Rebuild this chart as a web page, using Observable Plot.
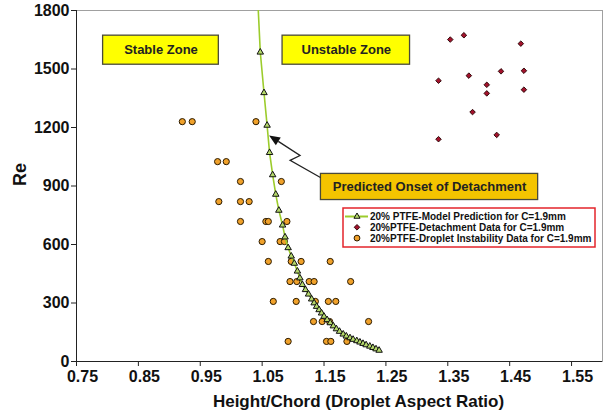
<!DOCTYPE html>
<html><head><meta charset="utf-8">
<script src="https://cdn.jsdelivr.net/npm/d3@7"></script>
<script src="https://cdn.jsdelivr.net/npm/@observablehq/plot@0.6"></script>
<style>body{margin:0;background:#fff;} #chart{width:610px;height:420px;}</style>
</head><body><div id="chart"></div>
<script>
// ---- data ----
const xTicks = [0.75, 0.85, 0.95, 1.05, 1.15, 1.25, 1.35, 1.45, 1.55];
const yTicks = [0, 300, 600, 900, 1200, 1500, 1800];

const modelX = [1.043, 1.047, 1.053, 1.058, 1.062, 1.067, 1.072, 1.077, 1.083, 1.087, 1.092, 1.097, 1.102, 1.107, 1.111, 1.115, 1.120, 1.125, 1.130, 1.134, 1.138, 1.142, 1.146, 1.150, 1.155, 1.160, 1.165, 1.170, 1.175, 1.181, 1.186, 1.192, 1.197, 1.203, 1.208, 1.213, 1.218, 1.224, 1.229, 1.234, 1.239];
const modelRe = [1850, 1586, 1378, 1211, 1071, 957, 857, 775, 699, 638, 583, 540, 503, 463, 428, 394, 368, 345, 320, 300, 282, 265, 248, 231, 214, 198, 182, 167, 154, 140, 130, 121, 113, 106, 99, 92, 85, 78, 71, 64, 57];

const detachX = [1.335, 1.354, 1.376, 1.384, 1.413, 1.413, 1.390, 1.335, 1.429, 1.436, 1.468, 1.473, 1.473];
const detachRe = [1440, 1651, 1673, 1466, 1419, 1375, 1279, 1140, 1162, 1488, 1630, 1491, 1394];

const dropX = [0.921, 0.937, 1.040, 0.978, 0.992, 1.015, 1.081, 0.980, 1.015, 1.029, 1.015, 1.056, 1.060, 1.090, 1.050, 1.079, 1.086, 1.060, 1.097, 1.113, 1.160, 1.095, 1.106, 1.126, 1.134, 1.193, 1.068, 1.105, 1.136, 1.157, 1.169, 1.133, 1.147, 1.159, 1.222, 1.092, 1.154, 1.161, 1.187];
const dropRe = [1230, 1230, 1230, 1025, 1025, 923, 923, 820, 820, 820, 718, 718, 718, 718, 615, 615, 615, 513, 513, 513, 513, 410, 410, 410, 410, 410, 308, 308, 308, 308, 308, 205, 205, 205, 205, 103, 103, 103, 103];

const seriesNames = [
  "20% PTFE-Model Prediction for C=1.9mm",
  "20%PTFE-Detachment Data for C=1.9mm",
  "20%PTFE-Droplet Instability Data for C=1.9mm"
];

// annotations (data coordinates)
const zoneText = ["Stable Zone", "Unstable Zone", "Predicted Onset of Detachment"];
const zoneX1 = [0.793, 1.083, 1.145];
const zoneX2 = [0.980, 1.289, 1.496];
const zoneY1 = [1522, 1522, 828];
const zoneY2 = [1671, 1671, 962];
const arrowX = [1.145, 1.096, 1.112, 1.062];
const arrowRe = [941, 1029, 1054, 1157];

// ---- tables ----
const model = modelX.map((x, i) => ({x, y: modelRe[i]}));
const detach = detachX.map((x, i) => ({x, y: detachRe[i]}));
const drop = dropX.map((x, i) => ({x, y: dropRe[i]}));
const zones = zoneText.map((t, i) => ({text: t, x1: zoneX1[i], x2: zoneX2[i], y1: zoneY1[i], y2: zoneY2[i],
  fill: i === 2 ? "#f4c400" : "#ffff00"}));

const FONT = "'Liberation Sans', Arial, Helvetica, sans-serif";
const lineColor = "#9ccc2c";
const triFill = "#b4d86a";
const diaFill = "#a3122c";
const dotFill = "#f0a12a";

const plot = Plot.plot({
  width: 610, height: 420,
  marginLeft: 76, marginRight: 8, marginTop: 10, marginBottom: 59,
  style: {fontFamily: FONT, fontWeight: "bold", color: "#111", background: "#fff", overflow: "visible"},
  x: {domain: [0.75, 1.6], label: null},
  y: {domain: [0, 1800], label: null},
  marks: [
    Plot.frame({stroke: "#a0a0a0"}),
    Plot.axisX({ticks: xTicks, tickSize: 5, tickFormat: () => "", stroke: "#222"}),
    Plot.axisX({ticks: xTicks, tickSize: 0, tickPadding: 9, dx: 6, fontSize: 16, tickFormat: d => d.toFixed(2), fill: "#111"}),
    Plot.axisY({ticks: yTicks, tickSize: 5, tickPadding: 2, fontSize: 16, tickFormat: d => String(d), stroke: "#222", fill: "#111"}),
    Plot.ruleX([0.75], {stroke: "#222"}),
    Plot.ruleY([0], {stroke: "#222"}),
    Plot.text(["Height/Chord (Droplet Aspect Ratio)"], {frameAnchor: "bottom", dy: 45, dx: 19, fontSize: 17, fill: "#111"}),
    Plot.text(["Re"], {frameAnchor: "left", rotate: -90, dx: -56, fontSize: 18, fill: "#111"}),
    Plot.rect(zones, {x1: "x1", x2: "x2", y1: "y1", y2: "y2", fill: "fill", stroke: "#4a4a3a", strokeWidth: 1.3}),
    Plot.text(zones, {x: d => (d.x1 + d.x2) / 2, y: d => (d.y1 + d.y2) / 2, text: "text", fontSize: 13, fill: "#222"}),
    Plot.dot(drop, {x: "x", y: "y", r: 3.1, fill: dotFill, stroke: "#2a1a00", strokeWidth: 1, clip: true}),
    Plot.line(model, {x: "x", y: "y", stroke: lineColor, strokeWidth: 1.6, clip: true}),
    Plot.dot(model, {x: "x", y: "y", symbol: "triangle", r: 2.4, fill: triFill, stroke: "#111", strokeWidth: 1, clip: true}),
    Plot.dot(detach, {x: "x", y: "y", symbol: "diamond2", r: 2.5, fill: diaFill, stroke: "#200", strokeWidth: 0.9, clip: true})
  ]
});

document.getElementById("chart").appendChild(plot);

// ---- arrow annotation ----
const sx = plot.scale("x"), sy = plot.scale("y");
const svg = d3.select(plot);
const pts = arrowX.map((x, i) => [sx.apply(x), sy.apply(arrowRe[i])]);
const tip = pts[pts.length - 1], prev = pts[pts.length - 2];
const ang = Math.atan2(tip[1] - prev[1], tip[0] - prev[0]);
const L = 11, W = 4.5;
const base = [tip[0] - L * Math.cos(ang), tip[1] - L * Math.sin(ang)];
const linePts = pts.slice(0, -1).concat([base]);
svg.append("path").attr("d", d3.line()(linePts)).attr("fill", "none").attr("stroke", "#222").attr("stroke-width", 1.3);
svg.append("path").attr("d", d3.line()([tip,
  [base[0] + W * Math.sin(ang), base[1] - W * Math.cos(ang)],
  [base[0] - W * Math.sin(ang), base[1] + W * Math.cos(ang)]]) + "Z").attr("fill", "#111");

// ---- legend ----
const lg = svg.append("g").attr("font-family", FONT).attr("font-weight", "bold").attr("font-size", 10).attr("text-anchor", "start");
lg.append("rect").attr("x", 343).attr("y", 208).attr("width", 252).attr("height", 39)
  .attr("fill", "#fff").attr("stroke", "#e3242b").attr("stroke-width", 1.5);
const ly = [216.5, 227.3, 238.1];
lg.append("line").attr("x1", 345).attr("x2", 368).attr("y1", ly[0]).attr("y2", ly[0]).attr("stroke", lineColor).attr("stroke-width", 2);
lg.append("path").attr("d", d3.symbol(d3.symbolTriangle, 16)()).attr("transform", `translate(357,${ly[0]})`)
  .attr("fill", triFill).attr("stroke", "#111").attr("stroke-width", 1);
lg.append("path").attr("d", d3.symbol(d3.symbolDiamond2, 20)()).attr("transform", `translate(357,${ly[1]})`)
  .attr("fill", diaFill).attr("stroke", "#200").attr("stroke-width", 0.9);
lg.append("circle").attr("cx", 357).attr("cy", ly[2]).attr("r", 2.9)
  .attr("fill", dotFill).attr("stroke", "#2a1a00").attr("stroke-width", 1);
seriesNames.forEach((t, i) => {
  lg.append("text").attr("x", 370).attr("y", ly[i]).attr("dy", "0.35em").attr("text-anchor", "start").attr("fill", "#111").text(t);
});
</script>
</body></html>
